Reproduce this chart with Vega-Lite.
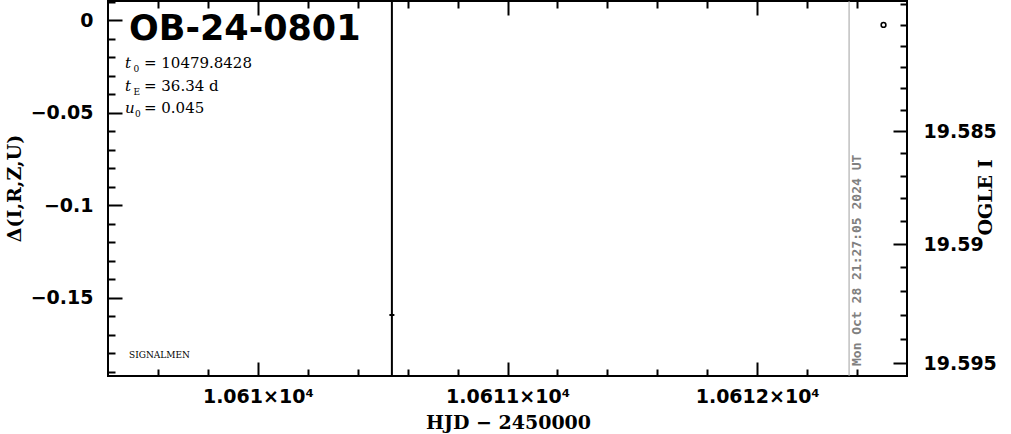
{
  "$schema": "https://vega.github.io/schema/vega-lite/v6.json",
  "width": 799,
  "height": 375,
  "autosize": {"type": "none"},
  "padding": {"left": 108, "top": 1, "right": 104, "bottom": 58},
  "background": "white",
  "config": {
    "view": {"stroke": "black", "strokeWidth": 2},
    "axis": {
      "grid": false, "domain": false, "tickColor": "black", "tickWidth": 2,
      "labelFont": "DejaVu Sans", "labelFontWeight": "bold", "labelFontSize": 19, "labelColor": "black",
      "titleFont": "DejaVu Serif", "titleFontWeight": "bold", "titleFontSize": 19, "titleColor": "black",
      "labelOverlap": false, "labelFlush": false, "labelBound": false
    }
  },
  "layer": [
    {
      "data": {"values": [{"hjd": 10610.537, "lo": -0.6, "hi": 0.4}]},
      "mark": {"type": "rule", "color": "black", "strokeWidth": 2, "clip": true},
      "encoding": {
        "x": {
          "field": "hjd", "type": "quantitative",
          "scale": {"domain": [10609.4, 10612.6], "nice": false, "zero": false},
          "axis": {
            "orient": "bottom",
            "values": [10609.6, 10609.8, 10610, 10610.2, 10610.4, 10610.6, 10610.8, 10611, 10611.2, 10611.4, 10611.6, 10611.8, 10612, 10612.2, 10612.4],
            "tickSize": {"condition": {"test": "abs(datum.value - round(datum.value)) < 0.001", "value": -14}, "value": -7},
            "labelExpr": "abs(datum.value - round(datum.value)) < 0.001 ? format(datum.value / 10000, '.5~r') + '×10⁴' : ''",
            "labelPadding": 25,
            "title": "HJD − 2450000",
            "titleX": 400, "titleY": 52, "titleAlign": "center", "titleBaseline": "alphabetic", "titleAngle": 0
          }
        },
        "y": {
          "field": "lo", "type": "quantitative",
          "scale": {"domain": [-0.1923, 0.0105], "nice": false, "zero": false},
          "axis": {
            "orient": "left",
            "values": [0.01, 0, -0.01, -0.02, -0.03, -0.04, -0.05, -0.06, -0.07, -0.08, -0.09, -0.1, -0.11, -0.12, -0.13, -0.14, -0.15, -0.16, -0.17, -0.18, -0.19],
            "tickSize": {"condition": {"test": "abs(datum.value * 20 - round(datum.value * 20)) < 0.001", "value": -14}, "value": -7},
            "labelExpr": "abs(datum.value * 20 - round(datum.value * 20)) < 0.001 ? format(datum.value, '~g') : ''",
            "labelPadding": 29,
            "title": "Δ(I,R,Z,U)",
            "titleX": -94, "titleY": 187, "titleAngle": 270, "titleAlign": "center", "titleBaseline": "middle"
          }
        },
        "y2": {"field": "hi"}
      }
    },
    {
      "data": {"values": [{"hjd": 10610.537, "delta": -0.1593}]},
      "mark": {"type": "tick", "orient": "horizontal", "size": 5, "thickness": 2, "color": "black", "opacity": 1},
      "encoding": {
        "x": {"field": "hjd", "type": "quantitative", "axis": null},
        "y": {"field": "delta", "type": "quantitative", "axis": null, "scale": {"domain": [-0.1923, 0.0105], "nice": false, "zero": false}}
      }
    },
    {
      "data": {"values": [{"hjd": 10612.368}]},
      "mark": {"type": "rule", "color": "#a0a0a0", "strokeWidth": 1},
      "encoding": {
        "x": {
          "field": "hjd", "type": "quantitative",
          "axis": {
            "orient": "top",
            "values": [10609.6, 10609.8, 10610, 10610.2, 10610.4, 10610.6, 10610.8, 10611, 10611.2, 10611.4, 10611.6, 10611.8, 10612, 10612.2, 10612.4],
            "tickSize": {"condition": {"test": "abs(datum.value - round(datum.value)) < 0.001", "value": -14}, "value": -7},
            "labels": false,
            "title": null
          }
        }
      }
    },
    {
      "data": {"values": [{"hjd": 10612.368, "delta": -0.1869, "label": "Mon Oct 28 21:27:05 2024 UT"}]},
      "mark": {"type": "text", "angle": 270, "align": "left", "baseline": "top", "dy": 2, "font": "DejaVu Sans Mono", "fontWeight": "bold", "fontSize": 13, "color": "#808080"},
      "encoding": {
        "x": {"field": "hjd", "type": "quantitative", "axis": null},
        "y": {"field": "delta", "type": "quantitative", "axis": null, "scale": {"domain": [-0.1923, 0.0105], "nice": false, "zero": false}},
        "text": {"field": "label"}
      }
    },
    {
      "data": {"values": [{"hjd": 10609.484, "delta": -0.01059, "label": "OB-24-0801"}]},
      "mark": {"type": "text", "align": "left", "baseline": "alphabetic", "font": "DejaVu Sans", "fontWeight": "bold", "fontSize": 35, "color": "black"},
      "encoding": {
        "x": {"field": "hjd", "type": "quantitative", "axis": null},
        "y": {"field": "delta", "type": "quantitative", "axis": null, "scale": {"domain": [-0.1923, 0.0105], "nice": false, "zero": false}},
        "text": {"field": "label"}
      }
    },
    {
      "data": {"values": [
        {"hjd": 10609.468, "delta": -0.02574, "label": "t"},
        {"hjd": 10609.468, "delta": -0.03817, "label": "t"},
        {"hjd": 10609.468, "delta": -0.05007, "label": "u"}
      ]},
      "mark": {"type": "text", "align": "left", "baseline": "alphabetic", "font": "DejaVu Serif", "fontStyle": "italic", "fontSize": 15, "color": "black"},
      "encoding": {
        "x": {"field": "hjd", "type": "quantitative", "axis": null},
        "y": {"field": "delta", "type": "quantitative", "axis": null, "scale": {"domain": [-0.1923, 0.0105], "nice": false, "zero": false}},
        "text": {"field": "label"}
      }
    },
    {
      "data": {"values": [
        {"hjd": 10609.502, "delta": -0.02790, "label": "0"},
        {"hjd": 10609.502, "delta": -0.04034, "label": "E"},
        {"hjd": 10609.508, "delta": -0.05224, "label": "0"}
      ]},
      "mark": {"type": "text", "align": "left", "baseline": "alphabetic", "font": "DejaVu Serif", "fontSize": 9, "color": "black"},
      "encoding": {
        "x": {"field": "hjd", "type": "quantitative", "axis": null},
        "y": {"field": "delta", "type": "quantitative", "axis": null, "scale": {"domain": [-0.1923, 0.0105], "nice": false, "zero": false}},
        "text": {"field": "label"}
      }
    },
    {
      "data": {"values": [
        {"hjd": 10609.544, "delta": -0.02574, "label": "= 10479.8428"},
        {"hjd": 10609.544, "delta": -0.03817, "label": "= 36.34 d"},
        {"hjd": 10609.544, "delta": -0.05007, "label": "= 0.045"}
      ]},
      "mark": {"type": "text", "align": "left", "baseline": "alphabetic", "font": "DejaVu Serif", "fontSize": 15, "color": "black"},
      "encoding": {
        "x": {"field": "hjd", "type": "quantitative", "axis": null},
        "y": {"field": "delta", "type": "quantitative", "axis": null, "scale": {"domain": [-0.1923, 0.0105], "nice": false, "zero": false}},
        "text": {"field": "label"}
      }
    },
    {
      "data": {"values": [{"hjd": 10609.484, "delta": -0.1826, "label": "SIGNALMEN"}]},
      "mark": {"type": "text", "align": "left", "baseline": "alphabetic", "font": "DejaVu Serif", "fontSize": 9, "color": "black"},
      "encoding": {
        "x": {"field": "hjd", "type": "quantitative", "axis": null},
        "y": {"field": "delta", "type": "quantitative", "axis": null, "scale": {"domain": [-0.1923, 0.0105], "nice": false, "zero": false}},
        "text": {"field": "label"}
      }
    },
    {
      "data": {"values": [{"hjd": 10612.506, "I": 19.580}]},
      "mark": {"type": "point", "shape": "circle", "filled": false, "size": 22, "strokeWidth": 1.6, "color": "black", "opacity": 1},
      "encoding": {
        "x": {"field": "hjd", "type": "quantitative", "axis": null},
        "y": {
          "field": "I", "type": "quantitative",
          "scale": {"type": "pow", "exponent": 226, "domain": [19.578836, 19.595508], "reverse": true, "nice": false, "zero": false},
          "axis": {
            "orient": "right",
            "values": [19.579, 19.58, 19.581, 19.582, 19.583, 19.584, 19.585, 19.586, 19.587, 19.588, 19.589, 19.59, 19.591, 19.592, 19.593, 19.594, 19.595],
            "tickSize": {"condition": {"test": "datum.value > 19.5825 && abs(datum.value * 200 - round(datum.value * 200)) < 0.01", "value": -14}, "value": -7},
            "labelExpr": "datum.value > 19.5825 && abs(datum.value * 200 - round(datum.value * 200)) < 0.01 ? format(datum.value, '.3~f') : ''",
            "labelPadding": 30,
            "title": "OGLE I",
            "titleX": 78, "titleY": 196, "titleAngle": 270, "titleAlign": "center", "titleBaseline": "middle"
          }
        }
      }
    }
  ],
  "resolve": {"scale": {"y": "independent"}}
}
